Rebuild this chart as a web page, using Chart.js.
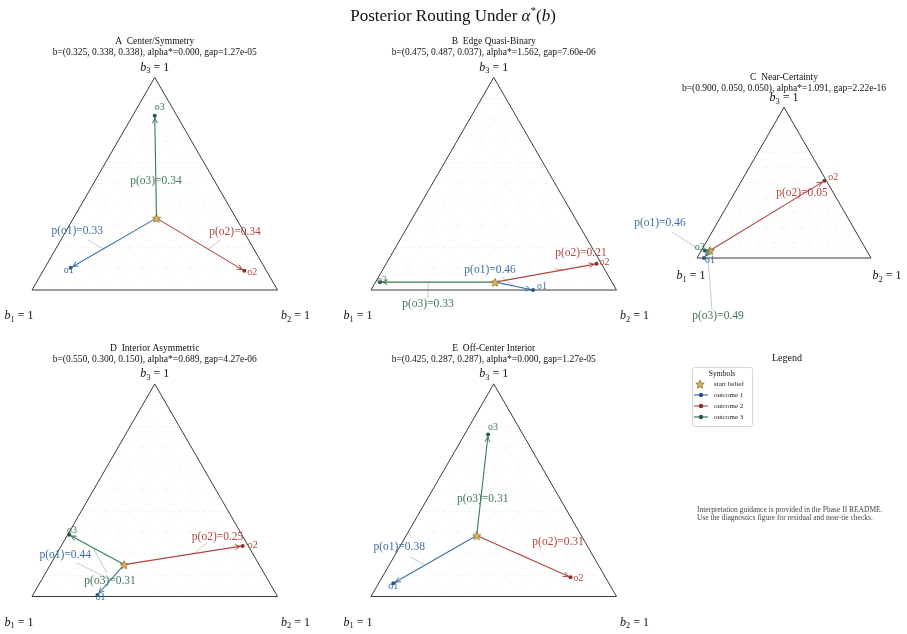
<!DOCTYPE html>
<html lang="en">
<head>
  <meta charset="UTF-8" />
  <title>Posterior Routing Under alpha*(b)</title>
  <script src="https://cdn.jsdelivr.net/npm/chart.js"></script>
  <style>
    body { margin: 0; background: #fff; }
    .sheet { position: relative; width: 907px; height: 634px; overflow: hidden; background: #fff; }
    .sheet canvas { position: absolute; left: 0; top: 0; }
  </style>
</head>
<body>
  <div class="sheet" id="sheet"></div>

  <script>
    // ---- data ----
    const panelKeys = ['A', 'B', 'C', 'D', 'E'];
    const panelNames = ['Center/Symmetry', 'Edge Quasi-Binary', 'Near-Certainty', 'Interior Asymmetric', 'Off-Center Interior'];
    const startBeliefs = [
      [0.325, 0.338, 0.338],
      [0.475, 0.487, 0.037],
      [0.900, 0.050, 0.050],
      [0.550, 0.300, 0.150],
      [0.425, 0.287, 0.287]
    ];
    const alphaStar = [0.000, 1.562, 1.091, 0.689, 0.000];
    const gaps = [1.27e-5, 7.60e-6, 2.22e-16, 4.27e-6, 1.27e-5];
    const outcomeProbs = [
      [0.33, 0.34, 0.34],
      [0.46, 0.21, 0.33],
      [0.46, 0.05, 0.49],
      [0.44, 0.25, 0.31],
      [0.38, 0.31, 0.31]
    ];
    // posterior beliefs (b1, b2, b3) after each outcome
    const postO1 = [[0.79, 0.105, 0.105], [0.34, 0.66, 0.0], [0.96, 0.04, 0.0], [0.73, 0.263, 0.007], [0.878, 0.06, 0.062]];
    const postO2 = [[0.09, 0.82, 0.09], [0.02, 0.857, 0.123], [0.012, 0.476, 0.512], [0.023, 0.739, 0.238], [0.142, 0.768, 0.09]];
    const postO3 = [[0.09, 0.09, 0.82], [0.945, 0.018, 0.037], [0.93, 0.02, 0.05], [0.704, 0.006, 0.29], [0.142, 0.096, 0.762]];
    const outcomeNames = ['o1', 'o2', 'o3'];
    const legendLabels = ['start belief', 'outcome 1', 'outcome 2', 'outcome 3'];
    const noteLines = [
      'Interpretation guidance is provided in the Phase II README.',
      'Use the diagnostics figure for residual and near-tie checks.'
    ];

    // ---- layout ----
    const W = 907, HT = 634;
    const H = Math.sqrt(3) / 2;
    const serif = "'Liberation Serif', 'DejaVu Serif', serif";
    const colors = ['#3d6fa3', '#b0463f', '#3b7a55'];
    const dotColors = ['#2c5580', '#8c2f2a', '#2a5a3e'];
    const leaderColors = ['rgba(61,111,163,0.45)', 'rgba(176,70,63,0.45)', 'rgba(59,122,85,0.45)'];

    // triangle placement: left vertex x, base y, side length (page px)
    const frames = [
      { x0: 32, y0: 290, side: 245.5 },
      { x0: 371, y0: 290, side: 245.5 },
      { x0: 697, y0: 258, side: 174 },
      { x0: 32, y0: 596.5, side: 245.5 },
      { x0: 371, y0: 596.5, side: 245.5 }
    ];
    const titleY = [41, 41, 77, 348, 348];
    // vertex label offsets in px: [b1, b2, b3]
    const vertexOffsets = [
      [[-13, 26], [18, 26], [0, -10]],
      [[-13, 26], [18, 26], [0, -10]],
      [[-6, 18], [16, 18], [0, -9]],
      [[-13, 26], [18, 26], [0, -10]],
      [[-13, 26], [18, 26], [0, -10]]
    ];
    // p(o) label positions in simplex plane coords
    const probLabelPos = [
      [[0.184, 0.239], [0.827, 0.236], [0.505, 0.445]],
      [[0.485, 0.081], [0.855, 0.149], [0.232, -0.057]],
      [[-0.213, 0.201], [0.603, 0.374], [0.121, -0.333]],
      [[0.135, 0.170], [0.756, 0.242], [0.318, 0.0645]],
      [[0.115, 0.200], [0.762, 0.223], [0.455, 0.396]]
    ];
    // leader line start (plane coords) and where it meets the arrow (fraction)
    const leaderFrom = [
      [[0.229, 0.204], [0.767, 0.204], null],
      [[0.532, 0.054], [0.749, 0.086], [0.232, -0.033]],
      [[-0.144, 0.149], null, [0.086, -0.299]],
      [[0.182, 0.137], [0.713, 0.220], [0.305, 0.096]],
      [[0.159, 0.162], [0.600, 0.177], null]
    ];
    const leaderT = [
      [0.62, 0.59, 0.5],
      [0.5, 0.67, 0.58],
      [0.5, 0.5, 0.5],
      [0.5, 0.59, 0.56],
      [0.62, 0.585, 0.5]
    ];
    // end-point text offsets in px
    const endTextOffsets = [
      [[-2, 3], [8, 2], [5, -8]],
      [[9, -4], [8, -1], [2, -2]],
      [[6, 2], [9, -3], [-5, -3]],
      [[3, 2], [10, -1], [3, -4]],
      [[0, 3], [8, 1], [5, -7]]
    ];

    function toPlane(b) {
      return { x: b[1] + b[2] / 2, y: b[2] * H };
    }

    function fmtExp(v) {
      const parts = v.toExponential(2).split('e');
      const n = parseInt(parts[1], 10);
      return parts[0] + 'e' + (n < 0 ? '-' : '+') + String(Math.abs(n)).padStart(2, '0');
    }

    function makeStar(r) {
      const c = document.createElement('canvas');
      const size = Math.ceil(r * 2 + 3);
      c.width = c.height = size;
      const g = c.getContext('2d');
      g.translate(size / 2, size / 2 + 0.6);
      g.beginPath();
      for (let i = 0; i < 10; i++) {
        const a = -Math.PI / 2 + i * Math.PI / 5;
        const rr = i % 2 ? r * 0.45 : r;
        g.lineTo(rr * Math.cos(a), rr * Math.sin(a));
      }
      g.closePath();
      g.fillStyle = '#e2b955';
      g.fill();
      g.lineWidth = 0.7;
      g.strokeStyle = '#7a5c1c';
      g.stroke();
      return c;
    }
    const starImg = makeStar(4.4);

    function gridData() {
      const pts = [];
      for (let k = 1; k < 10; k++) {
        const v = k / 10;
        const segs = [
          [[v, 1 - v, 0], [v, 0, 1 - v]],
          [[1 - v, v, 0], [0, v, 1 - v]],
          [[1 - v, 0, v], [0, 1 - v, v]]
        ];
        segs.forEach(s => {
          pts.push(toPlane(s[0]), toPlane(s[1]), { x: 0, y: null });
        });
      }
      return pts;
    }

    function drawVarLabel(ctx, idx, cx, cy, size) {
      const sub = String(idx);
      ctx.font = 'italic ' + size + 'px ' + serif;
      const wb = ctx.measureText('b').width;
      ctx.font = (size * 0.7) + 'px ' + serif;
      const ws = ctx.measureText(sub).width;
      ctx.font = size + 'px ' + serif;
      const wr = ctx.measureText(' = 1').width;
      let x = cx - (wb + ws + wr) / 2;
      ctx.textAlign = 'left';
      ctx.textBaseline = 'middle';
      ctx.fillStyle = '#111';
      ctx.font = 'italic ' + size + 'px ' + serif;
      ctx.fillText('b', x, cy);
      x += wb;
      ctx.font = (size * 0.7) + 'px ' + serif;
      ctx.fillText(sub, x, cy + size * 0.3);
      x += ws;
      ctx.font = size + 'px ' + serif;
      ctx.fillText(' = 1', x, cy);
    }

    function panelPlugin(i) {
      return {
        id: 'simplexText' + i,
        afterDatasetsDraw(chart) {
          const ctx = chart.ctx;
          const xs = chart.scales.x, ys = chart.scales.y;
          const P = p => [xs.getPixelForValue(p.x), ys.getPixelForValue(p.y)];
          const start = toPlane(startBeliefs[i]);
          const posts = [postO1[i], postO2[i], postO3[i]].map(toPlane);
          ctx.save();
          posts.forEach((post, k) => {
            const [sx, sy] = P(start);
            const [ex, ey] = P(post);
            const dx = ex - sx, dy = ey - sy;
            const len = Math.hypot(dx, dy);
            if (len > 3) {
              const ux = dx / len, uy = dy / len;
              const tx = ex - ux * 2.5, ty = ey - uy * 2.5;
              const hl = Math.min(5, len * 0.6), hw = hl * 0.5;
              ctx.beginPath();
              ctx.moveTo(tx - ux * hl - uy * hw, ty - uy * hl + ux * hw);
              ctx.lineTo(tx, ty);
              ctx.lineTo(tx - ux * hl + uy * hw, ty - uy * hl - ux * hw);
              ctx.strokeStyle = colors[k];
              ctx.lineWidth = 1;
              ctx.stroke();
            }
            // leader line
            const lf = leaderFrom[i][k];
            if (lf) {
              const t = leaderT[i][k];
              const [ax, ay] = P({ x: lf[0], y: lf[1] });
              const [bx, by] = P({ x: start.x + t * (post.x - start.x), y: start.y + t * (post.y - start.y) });
              ctx.beginPath();
              ctx.moveTo(ax, ay);
              ctx.lineTo(bx, by);
              ctx.strokeStyle = leaderColors[k];
              ctx.lineWidth = 0.8;
              ctx.stroke();
            }
            // end-point name
            const off = endTextOffsets[i][k];
            ctx.font = '10px ' + serif;
            ctx.fillStyle = colors[k];
            ctx.textAlign = 'center';
            ctx.textBaseline = 'middle';
            ctx.fillText(outcomeNames[k], ex + off[0], ey + off[1]);
            // probability label
            const lp = probLabelPos[i][k];
            const [lx, ly] = P({ x: lp[0], y: lp[1] });
            ctx.font = '11.5px ' + serif;
            ctx.fillText('p(' + outcomeNames[k] + ')=' + outcomeProbs[i][k].toFixed(2), lx, ly);
          });
          ctx.restore();
        },
        afterDraw(chart) {
          const ctx = chart.ctx;
          const xs = chart.scales.x, ys = chart.scales.y;
          const P = p => [xs.getPixelForValue(p.x), ys.getPixelForValue(p.y)];
          const corners = [toPlane([1, 0, 0]), toPlane([0, 1, 0]), toPlane([0, 0, 1])];
          ctx.save();
          corners.forEach((c, k) => {
            const [cx, cy] = P(c);
            const off = vertexOffsets[i][k];
            drawVarLabel(ctx, k + 1, cx + off[0], cy + off[1], 12);
          });
          const [tx] = P(corners[2]);
          const b = startBeliefs[i];
          ctx.fillStyle = '#111';
          ctx.textAlign = 'center';
          ctx.textBaseline = 'middle';
          ctx.font = '9.5px ' + serif;
          ctx.fillText(panelKeys[i] + '  ' + panelNames[i], tx, titleY[i]);
          ctx.fillText('b=(' + b.map(v => v.toFixed(3)).join(', ') + '), alpha*=' + alphaStar[i].toFixed(3) +
            ', gap=' + fmtExp(gaps[i]), tx, titleY[i] + 11);
          ctx.restore();
        }
      };
    }

    const sheet = document.getElementById('sheet');

    panelKeys.forEach((key, i) => {
      const f = frames[i];
      const canvas = document.createElement('canvas');
      canvas.width = W;
      canvas.height = HT;
      sheet.appendChild(canvas);

      const start = toPlane(startBeliefs[i]);
      const posts = [postO1[i], postO2[i], postO3[i]].map(toPlane);
      const datasets = [{
        label: 'start belief',
        data: [start],
        pointStyle: starImg,
        pointRadius: 5,
        showLine: false
      }];
      posts.forEach((p, k) => datasets.push({
        label: 'outcome ' + (k + 1),
        data: [start, p],
        showLine: true,
        borderColor: colors[k],
        borderWidth: 1.1,
        pointRadius: [0, 2],
        pointBackgroundColor: dotColors[k],
        pointBorderWidth: 0
      }));
      datasets.push({
        label: 'simplex',
        data: [toPlane([1, 0, 0]), toPlane([0, 1, 0]), toPlane([0, 0, 1]), toPlane([1, 0, 0])],
        showLine: true,
        borderColor: '#3a3a3a',
        borderWidth: 1,
        pointRadius: 0
      });
      datasets.push({
        label: 'grid',
        data: gridData(),
        showLine: true,
        spanGaps: false,
        borderColor: 'rgba(0,0,0,0.04)',
        borderWidth: 0.8,
        pointRadius: 0
      });

      new Chart(canvas, {
        type: 'scatter',
        data: { datasets },
        options: {
          responsive: false,
          animation: false,
          events: [],
          devicePixelRatio: 1,
          layout: { padding: 0, autoPadding: false },
          scales: {
            x: { display: false, min: -f.x0 / f.side, max: (W - f.x0) / f.side },
            y: { display: false, min: (f.y0 - HT) / f.side, max: f.y0 / f.side }
          },
          plugins: { legend: { display: false }, tooltip: { enabled: false } }
        },
        plugins: [panelPlugin(i)]
      });
    });

    // ---- page title, legend panel, note ----
    const legendCanvas = document.createElement('canvas');
    legendCanvas.width = W;
    legendCanvas.height = HT;
    sheet.appendChild(legendCanvas);

    new Chart(legendCanvas, {
      type: 'scatter',
      data: { datasets: [] },
      options: {
        responsive: false,
        animation: false,
        events: [],
        devicePixelRatio: 1,
        layout: { padding: 0, autoPadding: false },
        scales: { x: { display: false }, y: { display: false } },
        plugins: { legend: { display: false }, tooltip: { enabled: false } }
      },
      plugins: [{
        id: 'pageText',
        afterDraw(chart) {
          const ctx = chart.ctx;
          ctx.save();
          // main title
          const pieces = [
            ['Posterior Routing Under ', '', 17, 0],
            ['\u03b1', 'italic ', 17, 0],
            ['*', '', 11, -6],
            ['(', '', 17, 0],
            ['b', 'italic ', 17, 0],
            [')', '', 17, 0]
          ];
          let total = 0;
          pieces.forEach(p => { ctx.font = p[1] + p[2] + 'px ' + serif; total += ctx.measureText(p[0]).width; });
          let x = 453 - total / 2;
          ctx.fillStyle = '#111';
          ctx.textAlign = 'left';
          ctx.textBaseline = 'middle';
          pieces.forEach(p => {
            ctx.font = p[1] + p[2] + 'px ' + serif;
            ctx.fillText(p[0], x, 17 + p[3]);
            x += ctx.measureText(p[0]).width;
          });

          // legend panel
          ctx.textAlign = 'center';
          ctx.font = '10px ' + serif;
          ctx.fillText('Legend', 787, 358);
          ctx.beginPath();
          ctx.roundRect(692.5, 367.5, 60, 59, 2);
          ctx.fillStyle = '#fff';
          ctx.fill();
          ctx.strokeStyle = '#d6d6d6';
          ctx.lineWidth = 1;
          ctx.stroke();
          ctx.fillStyle = '#111';
          ctx.font = '7.5px ' + serif;
          ctx.fillText('Symbols', 722, 374);
          const rowY = [384, 395, 406, 417];
          legendLabels.forEach((lab, r) => {
            const y = rowY[r];
            if (r === 0) {
              ctx.drawImage(starImg, 700 - starImg.width / 2, y - starImg.height / 2);
            } else {
              const k = r - 1;
              ctx.beginPath();
              ctx.moveTo(694, y);
              ctx.lineTo(708, y);
              ctx.strokeStyle = k === 1 ? 'rgba(176,70,63,0.55)' : colors[k];
              ctx.lineWidth = k === 1 ? 2 : 1.2;
              ctx.stroke();
              ctx.beginPath();
              ctx.arc(701, y, 2.2, 0, Math.PI * 2);
              ctx.fillStyle = dotColors[k];
              ctx.fill();
            }
            ctx.fillStyle = '#222';
            ctx.textAlign = 'left';
            ctx.font = '7px ' + serif;
            ctx.fillText(lab, 714, y);
          });

          // note
          ctx.fillStyle = '#444';
          ctx.font = '7.5px ' + serif;
          noteLines.forEach((line, n) => ctx.fillText(line, 697, 510 + n * 8));
          ctx.restore();
        }
      }]
    });
  </script>
</body>
</html>
